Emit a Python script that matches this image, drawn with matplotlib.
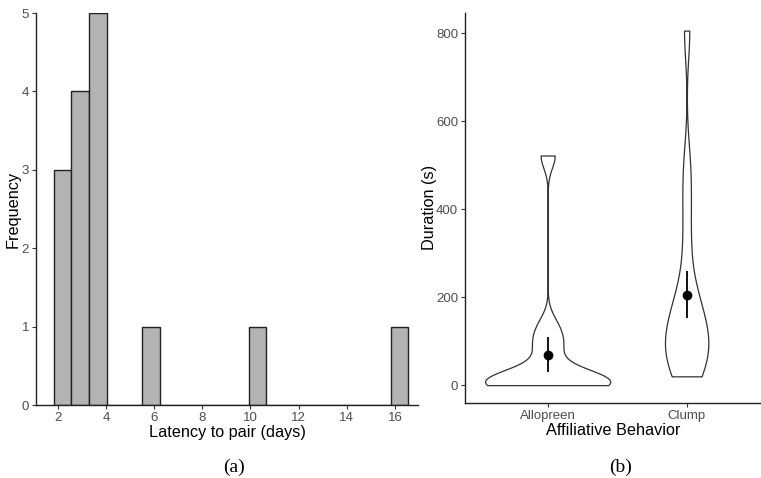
import numpy as np
import matplotlib
matplotlib.use("Agg")
import matplotlib.pyplot as plt

# (a) latency to pair, days
latency = [2, 2, 2, 3, 3, 3, 3, 4, 4, 4, 4, 4, 6, 10, 16]

# (b) affiliative behaviour durations, seconds
behaviors = ["Allopreen", "Clump"]
allopreen = [0, 1, 3, 5, 7, 9, 11, 13, 16, 76, 102, 135, 522]
clump = [20, 28, 45, 65, 80, 95, 105, 120, 140, 165, 190, 215,
         310, 410, 500, 806]

plt.rcParams["font.family"] = ["Liberation Sans", "DejaVu Sans"]


def nrd0(x):
    # R's default bandwidth, which ggplot uses for violins
    x = np.asarray(x, float)
    sd = np.std(x, ddof=1)
    q1, q3 = np.percentile(x, [25, 75])
    lo = min(sd, (q3 - q1) / 1.34)
    return 0.9 * lo * len(x) ** -0.2


def kde(x, grid):
    x = np.asarray(x, float)
    h = nrd0(x)
    z = (grid[:, None] - x[None, :]) / h
    return np.exp(-0.5 * z ** 2).sum(axis=1) / (len(x) * h * np.sqrt(2 * np.pi))


fig = plt.figure(figsize=(7.61, 4.78), dpi=100)
tick_col = "#4d4d4d"
title_size = 11.7

# ---- panel (a): histogram
ax1 = fig.add_axes([0.0473, 0.1527, 0.502, 0.8201])
width = 14 / 19
edges = 1.82 + width * np.arange(21)
ax1.hist(latency, bins=edges, color="#b3b3b3", edgecolor="#222222", linewidth=1.0)
ax1.set_xlim(1.09, 16.96)
ax1.set_ylim(0, 5)
ax1.set_xticks([2, 4, 6, 8, 10, 12, 14, 16])
ax1.set_yticks([0, 1, 2, 3, 4, 5])
ax1.set_xlabel("Latency to pair (days)", fontsize=title_size, labelpad=1)
ax1.set_ylabel("Frequency", fontsize=title_size)
ax1.yaxis.set_label_coords(-0.039, 0.5)

# ---- panel (b): violins (area scaled, trimmed) with mean +/- se
ax2 = fig.add_axes([0.611, 0.1575, 0.389, 0.8153])
groups = [allopreen, clump]
grids = [np.linspace(min(g), max(g), 512) for g in groups]
dens = [kde(g, gr) for g, gr in zip(groups, grids)]
dmax = max(d.max() for d in dens)
for i, (g, gr, d) in enumerate(zip(groups, grids, dens)):
    pos = i + 1
    hw = 0.45 * d / dmax
    ax2.fill_betweenx(gr, pos - hw, pos + hw, facecolor="white",
                      edgecolor="#333333", linewidth=0.9)
    m = np.mean(g)
    se = np.std(g, ddof=1) / np.sqrt(len(g))
    ax2.errorbar(pos, m, yerr=se, fmt="o", color="black", ms=6,
                 elinewidth=1.3, capsize=0)
ax2.set_xlim(0.405, 2.535)
ax2.set_ylim(-40, 846)
ax2.set_xticks([1, 2])
ax2.set_xticklabels(behaviors)
ax2.set_yticks([0, 200, 400, 600, 800])
ax2.set_xlabel("Affiliative Behavior", fontsize=title_size, labelpad=1)
ax2.set_ylabel("Duration (s)", fontsize=title_size)
ax2.yaxis.set_label_coords(-0.095, 0.5)

for ax in (ax1, ax2):
    for s in ("top", "right"):
        ax.spines[s].set_visible(False)
    for s in ("left", "bottom"):
        ax.spines[s].set_linewidth(1.0)
        ax.spines[s].set_color("#222222")
    ax.tick_params(labelsize=9.5, labelcolor=tick_col, color="#333333",
                   length=3, width=0.8, pad=2)

fig.text(0.307, 0.012, "(a)", family="Liberation Serif", fontsize=14, ha="center")
fig.text(0.815, 0.012, "(b)", family="Liberation Serif", fontsize=14, ha="center")

fig.savefig("out.png", dpi=100)
